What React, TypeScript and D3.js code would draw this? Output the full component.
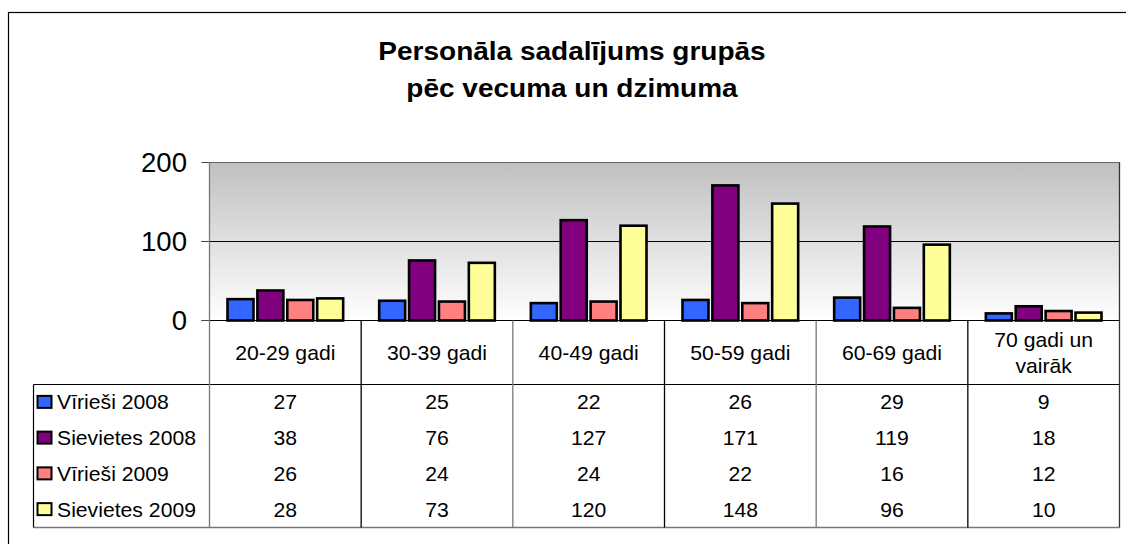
import React from "react";
import * as d3 from "d3";

const categories = ["20-29 gadi", "30-39 gadi", "40-49 gadi", "50-59 gadi", "60-69 gadi", "70 gadi un vairāk"];
const categoryLines = [["20-29 gadi"], ["30-39 gadi"], ["40-49 gadi"], ["50-59 gadi"], ["60-69 gadi"], ["70 gadi un", "vairāk"]];
const seriesNames = ["Vīrieši 2008", "Sievietes 2008", "Vīrieši 2009", "Sievietes 2009"];
const vir2008 = [27, 25, 22, 26, 29, 9];
const siev2008 = [38, 76, 127, 171, 119, 18];
const vir2009 = [26, 24, 24, 22, 16, 12];
const siev2009 = [28, 73, 120, 148, 96, 10];
const seriesValues = [vir2008, siev2008, vir2009, siev2009];
const seriesColors = ["#3366ff", "#800080", "#ff8080", "#ffff99"];
const yTicks = [0, 100, 200];
const titleLines = ["Personāla sadalījums grupās", "pēc vecuma un dzimuma"];

// text slightly stretched sideways, like the original
const T = ({ x, y, sx = 1.06, children, ...rest }: any) => (
  <text transform={`translate(${x},${y}) scale(${sx},1)`} {...rest}>
    {children}
  </text>
);

const App = () => {
  const width = 1126;
  const height = 544;
  const plot = { left: 209.5, right: 1119.5, top: 162.5, bottom: 320.5 };
  const table = { left: 33.5, headerBottom: 384.5, bottom: 527.5 };
  const rowH = (table.bottom - table.headerBottom) / seriesNames.length;
  const font = "'Liberation Sans', Arial, sans-serif";

  const x0 = d3.scaleBand().domain(categories).range([plot.left, plot.right]);
  const bw = x0.bandwidth();
  const x1 = d3.scaleBand().domain(seriesNames).range([18, bw - 18]).paddingInner(0.13);
  const y = d3.scaleLinear().domain([0, 200]).range([plot.bottom, plot.top]);

  return (
    <svg width={width} height={height} style={{ position: "absolute", left: 0, top: 0 }} fontFamily={font}>
      <defs>
        <linearGradient id="bg" x1="0" y1="0" x2="0" y2="1">
          <stop offset="0" stopColor="#c0c0c0" />
          <stop offset="1" stopColor="#ffffff" />
        </linearGradient>
      </defs>
      <rect x={0} y={0} width={width} height={height} fill="#fff" />
      <rect x={8.5} y={12.5} width={1200} height={700} fill="none" stroke="#000" strokeWidth={1.2} />

      {titleLines.map((t, i) => (
        <T key={t} x={572} y={60 + i * 37} sx={1.12} textAnchor="middle" fontSize={25} fontWeight="bold">
          {t}
        </T>
      ))}

      {/* plot area */}
      <rect x={plot.left} y={plot.top} width={plot.right - plot.left} height={plot.bottom - plot.top} fill="url(#bg)" stroke="#666" />
      {yTicks.map((t) => (
        <g key={t}>
          <line x1={plot.left - 8} x2={plot.right} y1={y(t)} y2={y(t)} stroke="#000" strokeWidth={t === 200 ? 0 : 1.2} />
          <line x1={plot.left - 8} x2={plot.left} y1={y(t)} y2={y(t)} stroke="#444" />
          <T x={187} y={y(t) + 9.5} sx={1.02} textAnchor="end" fontSize={27}>
            {t}
          </T>
        </g>
      ))}

      {categories.map((c, ci) => (
        <g key={c} transform={`translate(${x0(c)},0)`}>
          {seriesNames.map((s, si) => {
            const v = seriesValues[si][ci];
            return (
              <rect
                key={s}
                x={x1(s)}
                y={y(v)}
                width={x1.bandwidth()}
                height={y(0) - y(v)}
                fill={seriesColors[si]}
                stroke="#000"
                strokeWidth={2.6}
              />
            );
          })}
        </g>
      ))}

      {/* data table */}
      <line x1={plot.left} x2={plot.right} y1={plot.bottom} y2={plot.bottom} stroke="#000" strokeWidth={1.2} />
      <line x1={table.left} x2={plot.right} y1={table.headerBottom} y2={table.headerBottom} stroke="#000" strokeWidth={1.2} />
      <line x1={table.left} x2={plot.right} y1={table.bottom} y2={table.bottom} stroke="#777" strokeWidth={1.5} />
      <line x1={table.left} x2={table.left} y1={table.headerBottom} y2={table.bottom} stroke="#000" strokeWidth={1.2} />
      {categories.map((c, ci) => (
        <line key={c} x1={x0(c)} x2={x0(c)} y1={ci === 0 ? plot.top : plot.bottom} y2={table.bottom} stroke={ci % 2 === 0 ? "#777" : "#000"} strokeWidth={1.3} />
      ))}
      <line x1={plot.right} x2={plot.right} y1={plot.top} y2={table.bottom} stroke="#333" strokeWidth={1.3} />

      {categories.map((c, ci) => {
        const lines = categoryLines[ci];
        const cx = (x0(c) as number) + bw / 2;
        const mid = (plot.bottom + table.headerBottom) / 2;
        return lines.map((l, li) => (
          <T key={c + l} x={cx} y={mid + 7 + (li - (lines.length - 1) / 2) * 26} textAnchor="middle" fontSize={20}>
            {l}
          </T>
        ));
      })}

      {seriesNames.map((s, si) => {
        const cy = table.headerBottom + rowH * (si + 0.5);
        return (
          <g key={s}>
            <rect x={37.5} y={cy - 6.5} width={14} height={12} fill={seriesColors[si]} stroke="#000" strokeWidth={2} />
            <T x={57} y={cy + 7} fontSize={20}>
              {s}
            </T>
            {categories.map((c, ci) => (
              <T key={c} x={(x0(c) as number) + bw / 2} y={cy + 7} textAnchor="middle" fontSize={20}>
                {seriesValues[si][ci]}
              </T>
            ))}
          </g>
        );
      })}
    </svg>
  );
};

export default App;
